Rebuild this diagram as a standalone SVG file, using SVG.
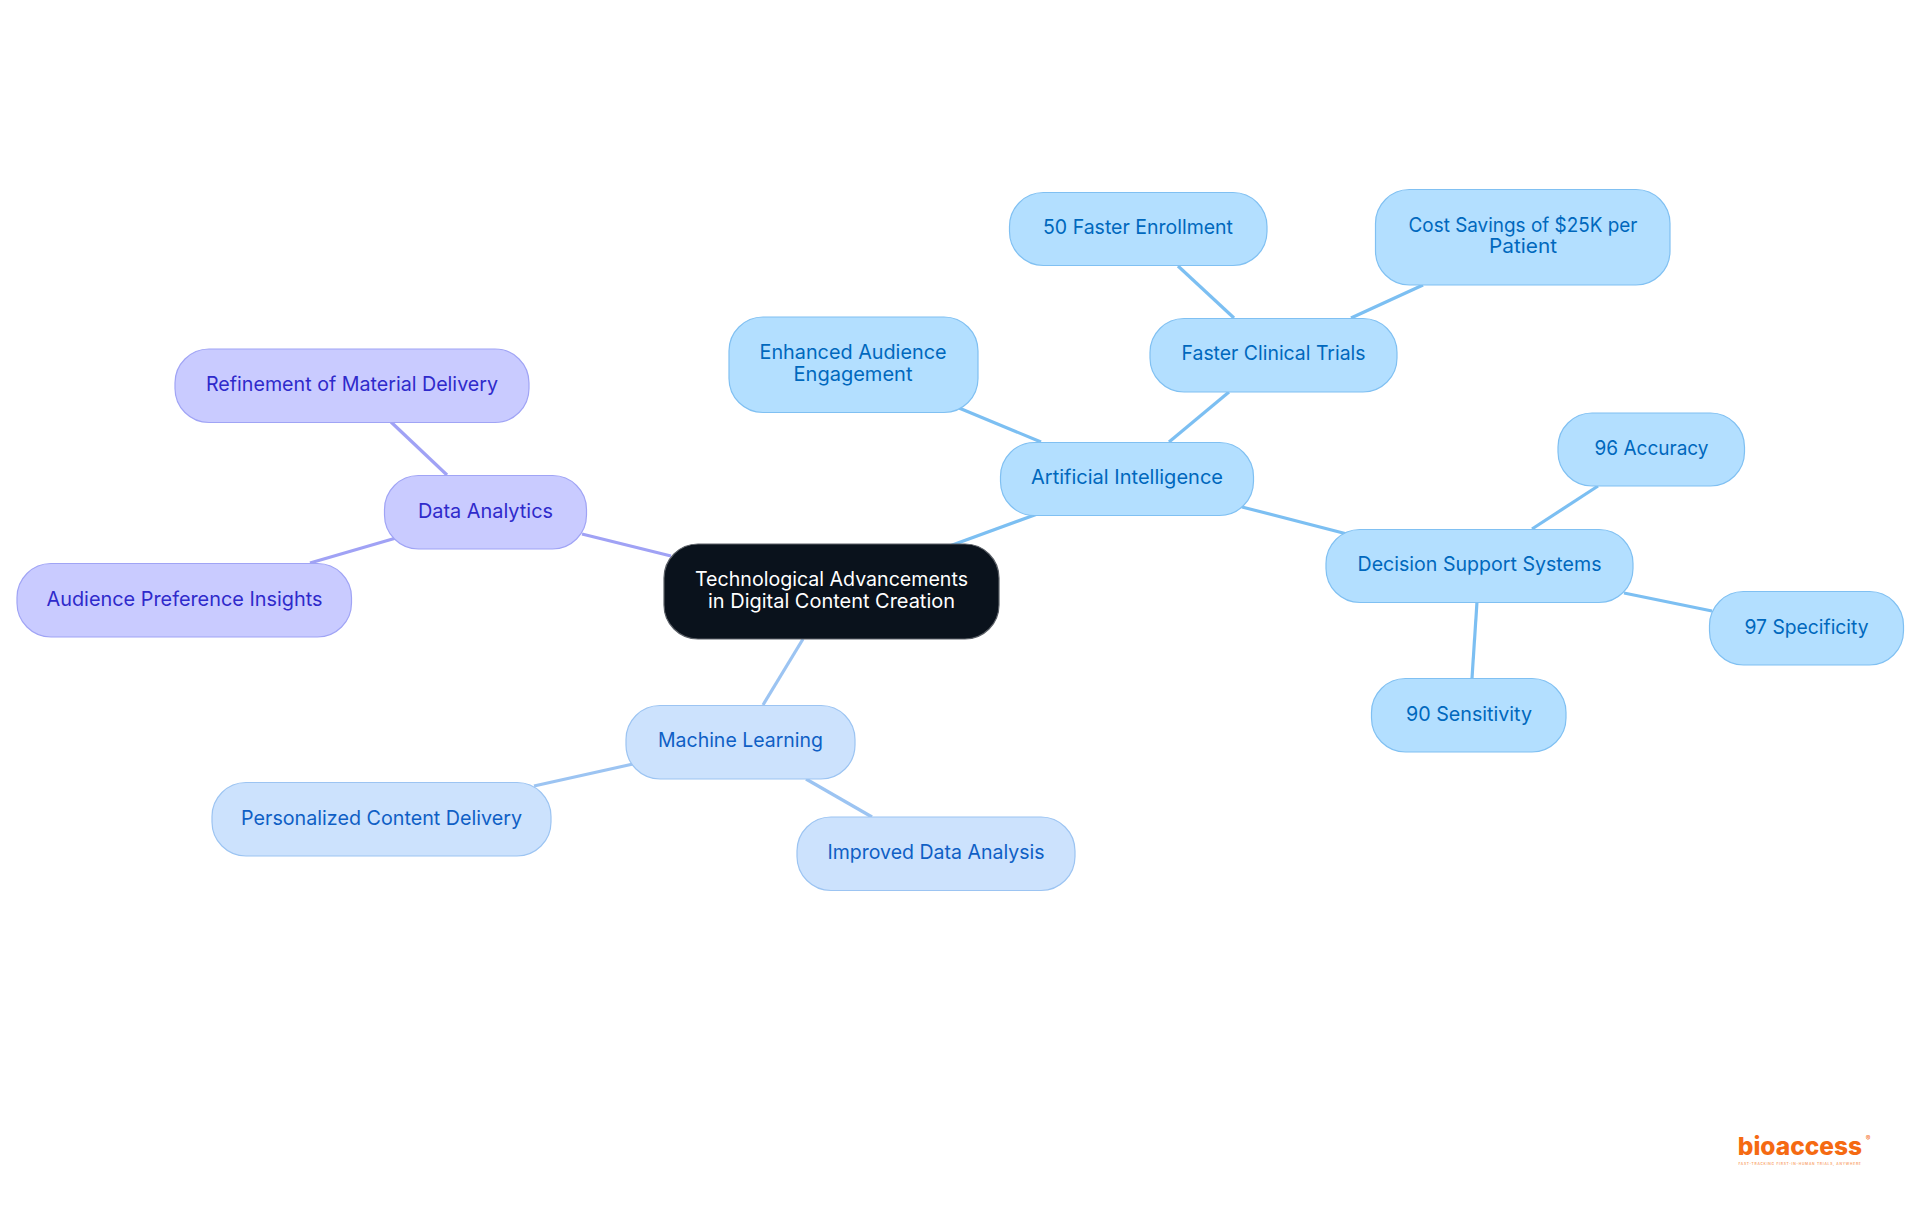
<svg xmlns="http://www.w3.org/2000/svg" width="1920" height="1215" viewBox="0 0 1920 1215">
<style>
text{font-family:"Inter","Noto Sans","Liberation Sans",sans-serif;font-size:20px;font-weight:375;text-anchor:middle}
rect{stroke-width:1.2}
.a rect{fill:#b3dfff;stroke:#80c0f2}.a text{fill:#0068bd}
.b rect{fill:#cce2fd;stroke:#9cc4f2}.b text{fill:#0f5fc5}
.c rect{fill:#c9cbff;stroke:#a0a4f5}.c text{fill:#2f2acb}
.r rect{fill:#0a121c;stroke:#5a5f66}.r text{fill:#fff;font-weight:400}
#connectors line{stroke-width:3.2;fill:none}
.la{stroke:#7cbff2}.lb{stroke:#9cc4f2}.lc{stroke:#a0a2f5}
#logo text{font-family:"Inter","Liberation Sans",sans-serif;fill:#f56a12}
</style>
<rect width="1920" height="1215" fill="#fff" style="stroke:none"/>
<g id="connectors">
<line class="la" x1="925" y1="555" x2="1062" y2="505"/>
<line class="la" x1="1169" y1="442" x2="1229" y2="392"/>
<line class="la" x1="1041" y1="442" x2="959" y2="408"/>
<line class="la" x1="1242" y1="507" x2="1347" y2="534"/>
<line class="la" x1="1234" y1="318" x2="1178" y2="266"/>
<line class="la" x1="1351" y1="318" x2="1423" y2="285"/>
<line class="la" x1="1532" y1="529" x2="1598" y2="486"/>
<line class="la" x1="1624" y1="593" x2="1712" y2="611"/>
<line class="la" x1="1472" y1="678" x2="1477" y2="602"/>
<line class="lc" x1="671" y1="556" x2="582" y2="534"/>
<line class="lc" x1="447" y1="475" x2="391" y2="422"/>
<line class="lc" x1="310" y1="563" x2="396" y2="538"/>
<line class="lb" x1="803" y1="639" x2="763" y2="705"/>
<line class="lb" x1="534" y1="786" x2="633" y2="764"/>
<line class="lb" x1="872" y1="817" x2="806" y2="779"/>
</g>
<g id="root" class="r"><rect x="664" y="544" width="335" height="95" rx="34"/><text x="831.500" y="586" textLength="273" lengthAdjust="spacingAndGlyphs">Technological Advancements</text><text x="831.500" y="608" textLength="247" lengthAdjust="spacingAndGlyphs">in Digital Content Creation</text></g>
<g id="ai" class="a"><rect x="1000.500" y="442.500" width="253" height="73" rx="34"/><text x="1127" y="484" textLength="192" lengthAdjust="spacingAndGlyphs">Artificial Intelligence</text></g>
<g id="trials" class="a"><rect x="1150" y="318.500" width="247" height="73.500" rx="34"/><text x="1273.500" y="360" textLength="184" lengthAdjust="spacingAndGlyphs">Faster Clinical Trials</text></g>
<g id="enroll" class="a"><rect x="1009.500" y="192.500" width="257.500" height="73" rx="34"/><text x="1138" y="234" textLength="190" lengthAdjust="spacingAndGlyphs">50 Faster Enrollment</text></g>
<g id="cost" class="a"><rect x="1375.500" y="189.500" width="294.500" height="95.500" rx="34"/><text x="1523" y="232" textLength="229" lengthAdjust="spacingAndGlyphs">Cost Savings of $25K per</text><text x="1523" y="253" textLength="68" lengthAdjust="spacingAndGlyphs">Patient</text></g>
<g id="engage" class="a"><rect x="729" y="317" width="249" height="95.500" rx="34"/><text x="853" y="359" textLength="187" lengthAdjust="spacingAndGlyphs">Enhanced Audience</text><text x="853" y="381" textLength="119" lengthAdjust="spacingAndGlyphs">Engagement</text></g>
<g id="dss" class="a"><rect x="1326" y="529.500" width="307" height="73" rx="34"/><text x="1479.500" y="571" textLength="244" lengthAdjust="spacingAndGlyphs">Decision Support Systems</text></g>
<g id="accuracy" class="a"><rect x="1558" y="413" width="186.500" height="73" rx="34"/><text x="1651.500" y="455" textLength="114" lengthAdjust="spacingAndGlyphs">96 Accuracy</text></g>
<g id="specificity" class="a"><rect x="1709.500" y="591.500" width="194" height="73.500" rx="34"/><text x="1806.500" y="634" textLength="124" lengthAdjust="spacingAndGlyphs">97 Specificity</text></g>
<g id="sensitivity" class="a"><rect x="1371.500" y="678.500" width="194.500" height="73.500" rx="34"/><text x="1469" y="721" textLength="126" lengthAdjust="spacingAndGlyphs">90 Sensitivity</text></g>
<g id="analytics" class="c"><rect x="384.500" y="475.500" width="202" height="73.500" rx="34"/><text x="485.500" y="518" textLength="135" lengthAdjust="spacingAndGlyphs">Data Analytics</text></g>
<g id="refine" class="c"><rect x="175" y="349" width="354" height="73.500" rx="34"/><text x="352" y="391" textLength="292" lengthAdjust="spacingAndGlyphs">Refinement of Material Delivery</text></g>
<g id="audience" class="c"><rect x="17" y="563.500" width="334.500" height="73.500" rx="34"/><text x="184.500" y="606" textLength="276" lengthAdjust="spacingAndGlyphs">Audience Preference Insights</text></g>
<g id="ml" class="b"><rect x="626" y="705.500" width="229" height="73.500" rx="34"/><text x="740.500" y="747" textLength="165" lengthAdjust="spacingAndGlyphs">Machine Learning</text></g>
<g id="personal" class="b"><rect x="212" y="782.500" width="339" height="73.500" rx="34"/><text x="381.500" y="825" textLength="281" lengthAdjust="spacingAndGlyphs">Personalized Content Delivery</text></g>
<g id="improved" class="b"><rect x="797" y="817" width="278" height="73.500" rx="34"/><text x="936" y="859" textLength="217" lengthAdjust="spacingAndGlyphs">Improved Data Analysis</text></g>
<g id="logo"><text x="1800" y="1155" style="font-weight:800;font-size:24.500px">bioaccess</text><text x="1868" y="1141" style="font-weight:400;font-size:7px">®</text><text x="1800" y="1165" style="font-size:3.300px;letter-spacing:.75px;font-weight:600;fill:#f9a36a">FAST-TRACKING FIRST-IN-HUMAN TRIALS, ANYWHERE</text></g>
</svg>
